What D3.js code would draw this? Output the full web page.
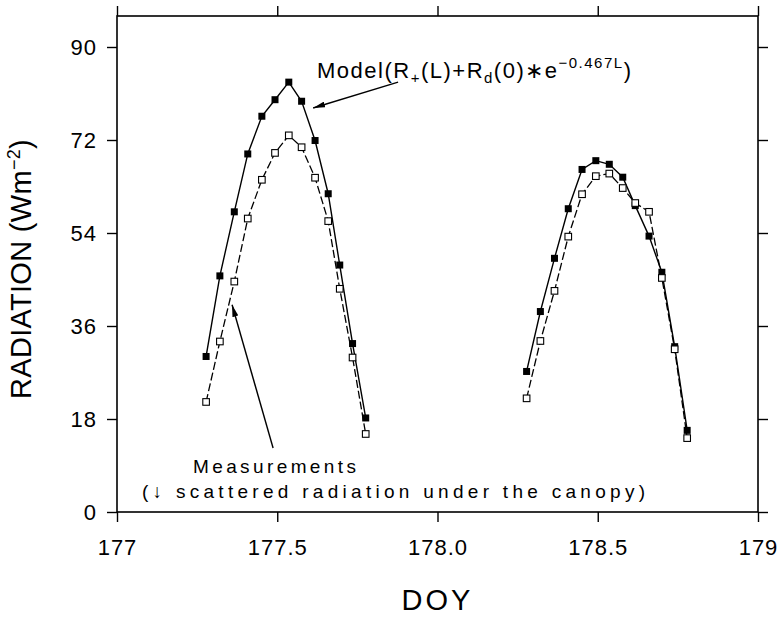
<!DOCTYPE html>
<html>
<head>
<meta charset="utf-8">
<script src="https://cdn.jsdelivr.net/npm/d3@7"></script>
<style>
  body { margin: 0; background: #fff; }
  text { font-family: "Liberation Sans", Arial, sans-serif; fill: #000; }
  .axis path, .axis line { stroke: #000; stroke-width: 1.4; }
  .axis text { font-size: 22px; letter-spacing: 1px; font-family: "Liberation Sans", Arial, sans-serif; }
</style>
</head>
<body>
<div id="chart"></div>
<script>
// values (hourly, two days)
var doyDay1 = [177.278, 177.321, 177.366, 177.408, 177.452, 177.493, 177.536,
               177.576, 177.618, 177.659, 177.695, 177.735, 177.776];
var doyDay2 = [178.278, 178.321, 178.365, 178.408, 178.451, 178.494, 178.536,
               178.578, 178.617, 178.660, 178.700, 178.740, 178.779];
var modelDay1 = [30.1, 45.7, 58.1, 69.3, 76.6, 79.8, 83.2, 79.5, 71.9, 61.6, 47.8, 32.6, 18.2];
var measDay1  = [21.3, 33.0, 44.6, 56.8, 64.3, 69.5, 72.9, 70.6, 64.7, 56.3, 43.2, 29.9, 15.1];
var modelDay2 = [27.2, 38.8, 49.1, 58.7, 66.3, 68.0, 67.3, 64.8, 59.3, 53.4, 46.4, 32.0, 15.8];
var measDay2  = [22.0, 33.1, 42.8, 53.3, 61.5, 65.0, 65.5, 62.7, 59.8, 58.1, 45.3, 31.5, 14.3];

var xTicks = [177, 177.5, 178, 178.5, 179];
var xTickLabels = ["177", "177.5", "178.0", "178.5", "179"];
var yTicks = [0, 18, 36, 54, 72, 90];

// set the dimensions and margins of the graph
var margin = {top: 16, right: 26, bottom: 106, left: 117},
    width = 784 - margin.left - margin.right,
    height = 618 - margin.top - margin.bottom;

var svg = d3.select("#chart")
  .append("svg")
    .attr("width", width + margin.left + margin.right)
    .attr("height", height + margin.top + margin.bottom)
  .append("g")
    .attr("transform", "translate(" + margin.left + "," + margin.top + ")");

var x = d3.scaleLinear().domain([177, 179]).range([0, width]);
var y = d3.scaleLinear().domain([0, 96]).range([height, 0]);

// arrow head
svg.append("defs").append("marker")
    .attr("id", "arrow")
    .attr("viewBox", "0 0 12 6")
    .attr("refX", 12).attr("refY", 3)
    .attr("markerWidth", 12).attr("markerHeight", 6)
    .attr("markerUnits", "userSpaceOnUse")
    .attr("orient", "auto")
  .append("path")
    .attr("d", "M0,0L12,3L0,6Z")
    .attr("fill", "#000");

// ---- axes on all four sides, ticks pointing out ----
svg.append("g")
    .attr("class", "axis")
    .attr("transform", "translate(0," + height + ")")
    .call(d3.axisBottom(x).tickValues(xTicks).tickSize(10).tickPadding(17).tickSizeOuter(0)
      .tickFormat(function(d, i) { return xTickLabels[i]; }));
svg.append("g")
    .attr("class", "axis")
    .call(d3.axisTop(x).tickValues(xTicks).tickSize(10).tickSizeOuter(0).tickFormat(""));
svg.append("g")
    .attr("class", "axis")
    .call(d3.axisLeft(y).tickValues(yTicks).tickSize(10).tickPadding(10).tickSizeOuter(0));
svg.append("g")
    .attr("class", "axis")
    .attr("transform", "translate(" + width + ",0)")
    .call(d3.axisRight(y).tickValues(yTicks).tickSize(10).tickSizeOuter(0).tickFormat(""));

svg.selectAll(".axis .domain").remove();
svg.append("rect")
    .attr("width", width).attr("height", height)
    .attr("fill", "none").attr("stroke", "#000").attr("stroke-width", 1.6);

// axis titles
var ylab = svg.append("text")
    .attr("transform", "translate(" + (31 - margin.left) + "," + (269 - margin.top) + ") rotate(-90)")
    .attr("text-anchor", "middle")
    .style("font-size", "29px")
    .style("letter-spacing", "0.3px");
ylab.append("tspan").text("RADIATION (Wm");
ylab.append("tspan").attr("dy", -11).style("font-size", "18px").text("\u22122");
ylab.append("tspan").attr("dy", 11).text(")");

svg.append("text")
    .attr("x", width / 2).attr("y", height + 98)
    .attr("text-anchor", "middle")
    .style("font-size", "29px")
    .style("letter-spacing", "3px")
    .text("DOY");

// ---- series ----
var line = d3.line()
    .x(function(d) { return x(d[0]); })
    .y(function(d) { return y(d[1]); });

var days = [
  {doy: doyDay1, model: modelDay1, meas: measDay1},
  {doy: doyDay2, model: modelDay2, meas: measDay2}
];

days.forEach(function(day) {
  var meas = day.doy.map(function(d, i) { return [d, day.meas[i]]; });
  var model = day.doy.map(function(d, i) { return [d, day.model[i]]; });

  svg.append("path")
      .datum(meas)
      .attr("d", line)
      .attr("fill", "none").attr("stroke", "#000")
      .attr("stroke-width", 1.3)
      .style("stroke-dasharray", "8,3");
  svg.append("path")
      .datum(model)
      .attr("d", line)
      .attr("fill", "none").attr("stroke", "#000")
      .attr("stroke-width", 1.4);

  svg.append("g").selectAll("rect")
    .data(model)
    .enter()
    .append("rect")
      .attr("x", function(d) { return x(d[0]) - 3.5; })
      .attr("y", function(d) { return y(d[1]) - 3.5; })
      .attr("width", 7).attr("height", 7)
      .attr("fill", "#000");

  svg.append("g").selectAll("rect")
    .data(meas)
    .enter()
    .append("rect")
      .attr("x", function(d) { return x(d[0]) - 3.3; })
      .attr("y", function(d) { return y(d[1]) - 3.3; })
      .attr("width", 6.6).attr("height", 6.6)
      .attr("fill", "#fff").attr("stroke", "#000").attr("stroke-width", 1.1);
});

// ---- annotations ----
svg.append("line")
    .attr("x1", x(177.877)).attr("y1", y(83.2))
    .attr("x2", x(177.612)).attr("y2", y(78.2))
    .attr("stroke", "#000").attr("stroke-width", 1.4)
    .attr("marker-end", "url(#arrow)");
svg.append("line")
    .attr("x1", x(177.487)).attr("y1", y(12.4))
    .attr("x2", x(177.359)).attr("y2", y(40.1))
    .attr("stroke", "#000").attr("stroke-width", 1.4)
    .attr("marker-end", "url(#arrow)");

var mt = svg.append("text")
    .attr("x", x(177.624)).attr("y", y(84.0))
    .style("font-size", "22px")
    .style("letter-spacing", "1.5px");
mt.append("tspan").text("Model(R");
mt.append("tspan").attr("dy", 5).style("font-size", "15px").text("+");
mt.append("tspan").attr("dy", -5).text("(L)+R");
mt.append("tspan").attr("dy", 5).style("font-size", "15px").text("d");
mt.append("tspan").attr("dy", -5).text("(0)\u2217e");
mt.append("tspan").attr("dy", -10).style("font-size", "15px").text("\u22120.467L");
mt.append("tspan").attr("dy", 10).text(")");

svg.append("text")
    .attr("x", x(177.237)).attr("y", y(7.5))
    .style("font-size", "19px")
    .attr("textLength", 163)
    .attr("lengthAdjust", "spacing")
    .text("Measurements");
svg.append("text")
    .attr("x", x(177.078)).attr("y", y(2.7))
    .style("font-size", "19px")
    .attr("textLength", 503)
    .attr("lengthAdjust", "spacing")
    .text("(\u2193 scattered radiation under the canopy)");
</script>
</body>
</html>
